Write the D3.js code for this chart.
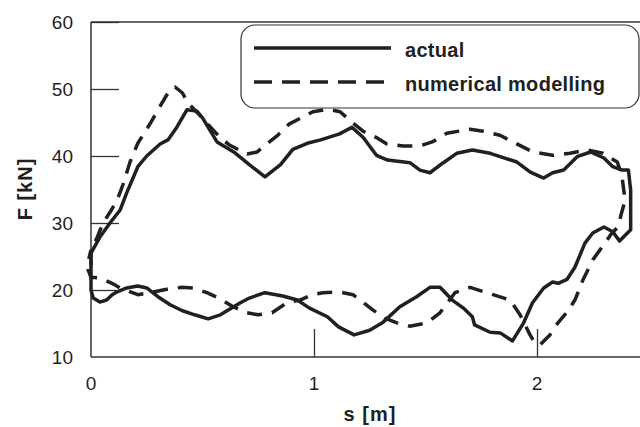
<!DOCTYPE html>
<html>
<head>
<meta charset="utf-8">
<script src="https://cdn.jsdelivr.net/npm/d3@7"></script>
<style>
  body { margin: 0; background: #fff; }
  svg { display: block; font-family: "Liberation Sans", Arial, sans-serif; }
</style>
</head>
<body>
<script>
// measured loop: actual
var actualS = [0, 0.04, 0.085, 0.13, 0.16, 0.21, 0.25, 0.31, 0.345, 0.385, 0.43, 0.475, 0.5, 0.565, 0.64, 0.71, 0.78, 0.85, 0.905, 0.97, 1.03, 1.115, 1.17, 1.22, 1.28, 1.33, 1.43, 1.475, 1.52, 1.58, 1.64, 1.71, 1.79, 1.835, 1.91, 1.97, 2.03, 2.07, 2.12, 2.18, 2.24, 2.3, 2.34, 2.38, 2.41, 2.42, 2.42, 2.42, 2.37, 2.34, 2.3, 2.25, 2.215, 2.17, 2.135, 2.095, 2.07, 2.03, 1.98, 1.94, 1.89, 1.835, 1.79, 1.72, 1.71, 1.67, 1.62, 1.565, 1.52, 1.46, 1.385, 1.31, 1.25, 1.18, 1.11, 1.06, 0.98, 0.925, 0.86, 0.78, 0.71, 0.67, 0.58, 0.525, 0.465, 0.41, 0.355, 0.3, 0.25, 0.21, 0.16, 0.115, 0.095, 0.07, 0.04, 0.01, 0, 0, 0];
var actualF = [25.5, 27.9, 30.0, 31.9, 34.5, 38.4, 40.0, 41.8, 42.4, 44.3, 46.9, 46.7, 45.7, 42.1, 40.6, 38.7, 36.9, 38.7, 41.0, 41.9, 42.4, 43.3, 44.3, 42.8, 40.1, 39.4, 39.0, 37.9, 37.5, 39.0, 40.4, 40.9, 40.4, 39.9, 39.1, 37.6, 36.7, 37.5, 37.9, 39.9, 40.6, 39.7, 38.4, 37.9, 37.9, 34.9, 31.9, 29.0, 27.3, 28.7, 29.4, 28.5, 27.0, 23.4, 21.6, 21.0, 21.2, 20.3, 18.1, 15.1, 12.4, 13.6, 13.7, 14.8, 16.0, 17.3, 18.5, 20.4, 20.4, 19.0, 17.5, 15.2, 14.0, 13.3, 14.5, 16.0, 17.3, 18.5, 19.1, 19.6, 18.8, 18.1, 16.3, 15.7, 16.3, 16.9, 17.8, 19.0, 20.3, 20.6, 20.3, 19.7, 19.3, 18.5, 18.2, 18.8, 20.0, 23.0, 25.5];

// measured loop: numerical modelling
var modelS = [0, 0, 0.027, 0.054, 0.085, 0.117, 0.143, 0.175, 0.21, 0.27, 0.3, 0.345, 0.377, 0.41, 0.435, 0.49, 0.58, 0.623, 0.7, 0.745, 0.78, 0.834, 0.89, 0.995, 1.063, 1.117, 1.175, 1.22, 1.283, 1.327, 1.4, 1.475, 1.53, 1.596, 1.7, 1.758, 1.834, 1.892, 1.982, 2.07, 2.148, 2.224, 2.296, 2.36, 2.38, 2.395, 2.38, 2.363, 2.336, 2.283, 2.25, 2.206, 2.17, 2.135, 2.094, 2.058, 2.013, 1.99, 1.969, 1.924, 1.879, 1.803, 1.7, 1.632, 1.565, 1.507, 1.43, 1.372, 1.318, 1.265, 1.175, 1.117, 1.04, 0.991, 0.937, 0.879, 0.812, 0.749, 0.7, 0.637, 0.578, 0.52, 0.457, 0.408, 0.34, 0.265, 0.21, 0.13, 0.094, 0.04, 0, -0.013, -0.013, 0];
var modelF = [23.7, 26.0, 27.8, 30.0, 31.6, 33.4, 35.7, 39.1, 41.9, 45.1, 46.9, 49.4, 50.3, 49.4, 47.9, 46.0, 42.7, 41.6, 40.3, 40.6, 41.6, 43.0, 44.8, 46.6, 47.0, 46.6, 44.9, 43.7, 42.7, 41.8, 41.5, 41.5, 42.1, 43.4, 44.0, 43.7, 43.1, 42.1, 40.6, 40.1, 40.4, 40.9, 40.4, 39.1, 37.2, 33.4, 31.6, 29.4, 28.5, 26.0, 24.5, 21.5, 18.5, 16.7, 15.1, 13.3, 11.8, 12.1, 13.3, 16.3, 18.5, 19.3, 20.4, 19.6, 16.6, 15.1, 14.6, 15.1, 15.8, 17.0, 19.3, 19.7, 19.6, 19.3, 18.5, 18.1, 16.6, 16.3, 16.6, 17.5, 18.7, 19.6, 20.3, 20.4, 20.1, 19.6, 19.3, 20.3, 21.0, 21.8, 21.9, 23.0, 24.2, 26.0];

var xTicks = [0, 1, 2];
var yTicks = [10, 20, 30, 40, 50, 60];
var legendNames = ["actual", "numerical modelling"];

var w = 640, h = 427;
var ink = "#231f20";

var x = d3.scaleLinear().domain([0, 2.5]).range([91, 91 + 2.5 * 223]);
var y = d3.scaleLinear().domain([10, 60]).range([357, 22]);

var svg = d3.select("body").append("svg")
    .attr("width", w)
    .attr("height", h);

// frame (left, bottom, top)
var frame = svg.append("g")
    .attr("stroke", "#333")
    .attr("stroke-width", 1.5)
    .attr("fill", "none");
frame.append("line").attr("x1", x(0)).attr("x2", x(0)).attr("y1", y(60)).attr("y2", y(10));
frame.append("line").attr("x1", x(0)).attr("x2", x(2.5)).attr("y1", y(10)).attr("y2", y(10));
frame.append("line").attr("x1", x(0)).attr("x2", x(2.5)).attr("y1", y(60)).attr("y2", y(60));

// inner ticks
var yAxis = d3.axisRight(y).tickValues(yTicks.slice(1)).tickSize(28).tickFormat("");
svg.append("g").attr("transform", "translate(" + x(0) + ",0)").call(yAxis)
    .call(function(g){ g.select(".domain").remove(); g.selectAll("line").attr("stroke", "#333").attr("stroke-width", 1.3); });
var xAxis = d3.axisTop(x).tickValues(xTicks.slice(1)).tickSize(28).tickFormat("");
svg.append("g").attr("transform", "translate(0," + y(10) + ")").call(xAxis)
    .call(function(g){ g.select(".domain").remove(); g.selectAll("line").attr("stroke", "#333").attr("stroke-width", 1.3); });

// tick labels
svg.append("g").selectAll("text").data(yTicks).enter().append("text")
    .attr("x", 73)
    .attr("y", function(d){ return y(d) + 7; })
    .attr("text-anchor", "end")
    .attr("font-size", 19)
    .attr("fill", ink)
    .text(function(d){ return d; });
svg.append("g").selectAll("text").data(xTicks).enter().append("text")
    .attr("x", function(d){ return x(d); })
    .attr("y", 390)
    .attr("text-anchor", "middle")
    .attr("font-size", 19)
    .attr("fill", ink)
    .text(function(d){ return d; });

// axis titles
svg.append("text")
    .attr("x", 370).attr("y", 421)
    .attr("text-anchor", "middle")
    .attr("font-size", 20).attr("font-weight", "bold")
    .attr("letter-spacing", 1)
    .attr("fill", ink)
    .text("s [m]");
svg.append("text")
    .attr("transform", "translate(32,189) rotate(-90)")
    .attr("text-anchor", "middle")
    .attr("font-size", 20).attr("font-weight", "bold")
    .attr("letter-spacing", 1)
    .attr("fill", ink)
    .text("F [kN]");

// curves
var line = d3.line()
    .x(function(d){ return x(d[0]); })
    .y(function(d){ return y(d[1]); });

var actual = d3.zip(actualS, actualF);
var model = d3.zip(modelS, modelF);

svg.append("path")
    .attr("d", line(model))
    .attr("fill", "none")
    .attr("stroke", ink)
    .attr("stroke-width", 3.5)
    .attr("stroke-dasharray", "15,10")
    .attr("stroke-linejoin", "round");
svg.append("path")
    .attr("d", line(actual))
    .attr("fill", "none")
    .attr("stroke", ink)
    .attr("stroke-width", 3.5)
    .attr("stroke-linejoin", "round");

// legend
var lg = svg.append("g");
lg.append("rect")
    .attr("x", 241).attr("y", 25)
    .attr("width", 398).attr("height", 83)
    .attr("rx", 14).attr("ry", 14)
    .attr("fill", "#fff")
    .attr("stroke", "#333")
    .attr("stroke-width", 1.2);
var items = lg.selectAll("g.item").data(legendNames).enter().append("g")
    .attr("class", "item")
    .attr("transform", function(d, i){ return "translate(0," + (48 + i * 34) + ")"; });
items.append("line")
    .attr("x1", 254).attr("x2", 391)
    .attr("stroke", ink)
    .attr("stroke-width", 3.5)
    .attr("stroke-dasharray", function(d, i){ return i ? "18,10" : null; });
items.append("text")
    .attr("x", 405).attr("y", 9)
    .attr("font-size", 20).attr("font-weight", "bold")
    .attr("letter-spacing", 0.3)
    .attr("fill", ink)
    .text(function(d){ return d; });
</script>
</body>
</html>
